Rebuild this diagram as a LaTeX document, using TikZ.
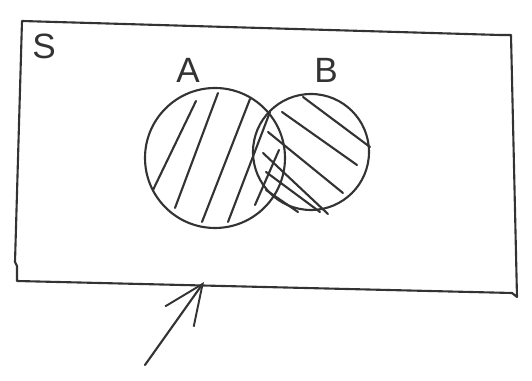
\documentclass[tikz,border=0pt]{standalone}
\usepackage{fontspec}
\setsansfont{Liberation Sans}
\usetikzlibrary{arrows.meta,positioning}

\begin{document}
\begin{tikzpicture}[x=0.02cm,y=-0.02cm,>={Straight Barb[length=8mm,width=7mm,line width=1.1pt]},
  pen/.style={line width=1.2pt,black!80,line cap=round,line join=round},
  setlabel/.style={font=\sffamily\fontsize{20}{24}\selectfont,black!80},
  setcircle/.style={pen,draw,circle,inner sep=0pt}]
  \useasboundingbox (0,0) rectangle (532,381);
  % sample space
  \draw[pen] (22,21) -- (500,35) -- (511,35) -- (517,297) -- (512,293)
    -- (17,281) -- (17,266) -- (15,262) -- cycle;
  \node[setlabel] (S) at (44,46) {S};
  % the two sets
  \node[setcircle,minimum size=140*0.02cm] (A) at (215,158) {};
  \node[setcircle,minimum size=116*0.02cm] (B) at (311,152) {};
  \node[setlabel] (labA) at (188,70) {A};
  \node[setlabel] (labB) at (326,70) {B};
  % hatching of A
  \draw[pen] (153,190) -- (196,101);
  \draw[pen] (175,208) -- (218,93);
  \draw[pen] (202,222) -- (250,99);
  \draw[pen] (228,222) -- (270,112);
  \draw[pen] (255,205) -- (279,150);
  % hatching of B
  \draw[pen] (303,97) -- (370,147);
  \draw[pen] (282,112) -- (357,165);
  \draw[pen] (268,132) -- (343,193);
  \draw[pen] (263,153) -- (328,214);
  \draw[pen] (266,172) -- (320,212);
  \draw[pen] (266,190) -- (298,212);
  % pointer
  \coordinate (tail) at (145,365);
  \coordinate (tip) at (204,282);
  \draw[pen,->] (tail) -- (tip);
\end{tikzpicture}
\end{document}
